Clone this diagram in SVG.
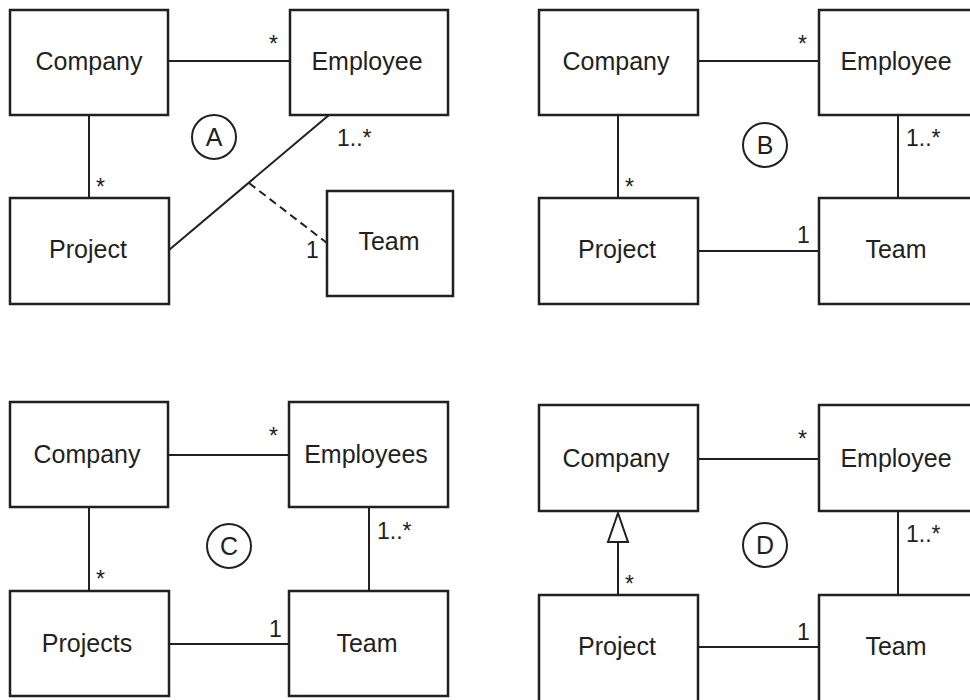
<svg xmlns="http://www.w3.org/2000/svg" width="970" height="700" viewBox="0 0 970 700">
<style>
.box{fill:#fff;stroke:#231f20;stroke-width:2.5}
.ln{fill:none;stroke:#231f20;stroke-width:2}
.dash{fill:none;stroke:#231f20;stroke-width:2;stroke-dasharray:8 5}
.t{font-family:"Liberation Sans",Arial,sans-serif;font-size:25px;fill:#231f20;text-anchor:middle}
.m{font-family:"Liberation Sans",Arial,sans-serif;font-size:23px;fill:#231f20}
.c{fill:none;stroke:#231f20;stroke-width:2}
</style>
<rect width="970" height="700" fill="#fff"/>
<g id="connectors">
<!-- A -->
<line class="ln" x1="168" y1="61" x2="290" y2="61"/>
<line class="ln" x1="89" y1="115" x2="89" y2="198"/>
<line class="ln" x1="169" y1="250" x2="329" y2="115"/>
<line class="dash" x1="249" y1="183" x2="327" y2="243"/>
<!-- B -->
<line class="ln" x1="698" y1="61" x2="819" y2="61"/>
<line class="ln" x1="618" y1="115" x2="618" y2="198"/>
<line class="ln" x1="898" y1="115" x2="898" y2="198"/>
<line class="ln" x1="698" y1="251" x2="819" y2="251"/>
<!-- C -->
<line class="ln" x1="168" y1="455" x2="289" y2="455"/>
<line class="ln" x1="89" y1="507" x2="89" y2="591"/>
<line class="ln" x1="369" y1="507" x2="369" y2="591"/>
<line class="ln" x1="169" y1="644" x2="289" y2="644"/>
<!-- D -->
<line class="ln" x1="698" y1="459" x2="819" y2="459"/>
<line class="ln" x1="618" y1="542" x2="618" y2="595"/>
<polygon points="618,513 608,542 628,542" fill="#fff" stroke="#231f20" stroke-width="2" stroke-linejoin="miter"/>
<line class="ln" x1="898" y1="511" x2="898" y2="595"/>
<line class="ln" x1="698" y1="647" x2="819" y2="647"/>
<!-- multiplicities -->
<text class="m" x="269" y="52">*</text>
<text class="m" x="96" y="195">*</text>
<text class="m" x="337" y="146">1..*</text>
<text class="m" x="306" y="258">1</text>
<text class="m" x="798" y="52">*</text>
<text class="m" x="625" y="195">*</text>
<text class="m" x="906" y="146">1..*</text>
<text class="m" x="797" y="243">1</text>
<text class="m" x="269" y="444">*</text>
<text class="m" x="96" y="587">*</text>
<text class="m" x="377" y="539">1..*</text>
<text class="m" x="269" y="637">1</text>
<text class="m" x="798" y="447">*</text>
<text class="m" x="625" y="592">*</text>
<text class="m" x="906" y="542">1..*</text>
<text class="m" x="797" y="640">1</text>
</g>
<g id="labelA"><circle class="c" cx="214" cy="137" r="22"/><text class="t" x="214" y="146">A</text></g>
<g id="labelB"><circle class="c" cx="765" cy="145" r="22"/><text class="t" x="765" y="154">B</text></g>
<g id="labelC"><circle class="c" cx="229" cy="546" r="22"/><text class="t" x="229" y="555">C</text></g>
<g id="labelD"><circle class="c" cx="765" cy="545" r="22"/><text class="t" x="765" y="554">D</text></g>
<g id="a-company"><rect class="box" x="10" y="10" width="158" height="105"/><text class="t" x="89" y="70">Company</text></g>
<g id="a-employee"><rect class="box" x="290" y="10" width="158" height="105"/><text class="t" x="367" y="70">Employee</text></g>
<g id="a-project"><rect class="box" x="10" y="198" width="159" height="106"/><text class="t" x="88" y="258">Project</text></g>
<g id="a-team"><rect class="box" x="327" y="191" width="126" height="105"/><text class="t" x="389" y="250">Team</text></g>
<g id="b-company"><rect class="box" x="539" y="10" width="159" height="105"/><text class="t" x="616" y="70">Company</text></g>
<g id="b-employee"><rect class="box" x="819" y="10" width="160" height="105"/><text class="t" x="896" y="70">Employee</text></g>
<g id="b-project"><rect class="box" x="539" y="198" width="159" height="106"/><text class="t" x="617" y="258">Project</text></g>
<g id="b-team"><rect class="box" x="819" y="198" width="160" height="106"/><text class="t" x="896" y="258">Team</text></g>
<g id="c-company"><rect class="box" x="10" y="402" width="158" height="105"/><text class="t" x="87" y="463">Company</text></g>
<g id="c-employees"><rect class="box" x="289" y="402" width="159" height="105"/><text class="t" x="366" y="463">Employees</text></g>
<g id="c-projects"><rect class="box" x="10" y="591" width="159" height="105"/><text class="t" x="87" y="652">Projects</text></g>
<g id="c-team"><rect class="box" x="289" y="591" width="159" height="105"/><text class="t" x="367" y="652">Team</text></g>
<g id="d-company"><rect class="box" x="539" y="405" width="159" height="106"/><text class="t" x="616" y="467">Company</text></g>
<g id="d-employee"><rect class="box" x="819" y="405" width="160" height="106"/><text class="t" x="896" y="467">Employee</text></g>
<g id="d-project"><rect class="box" x="539" y="595" width="159" height="110"/><text class="t" x="617" y="655">Project</text></g>
<g id="d-team"><rect class="box" x="819" y="595" width="160" height="110"/><text class="t" x="896" y="655">Team</text></g>
</svg>
